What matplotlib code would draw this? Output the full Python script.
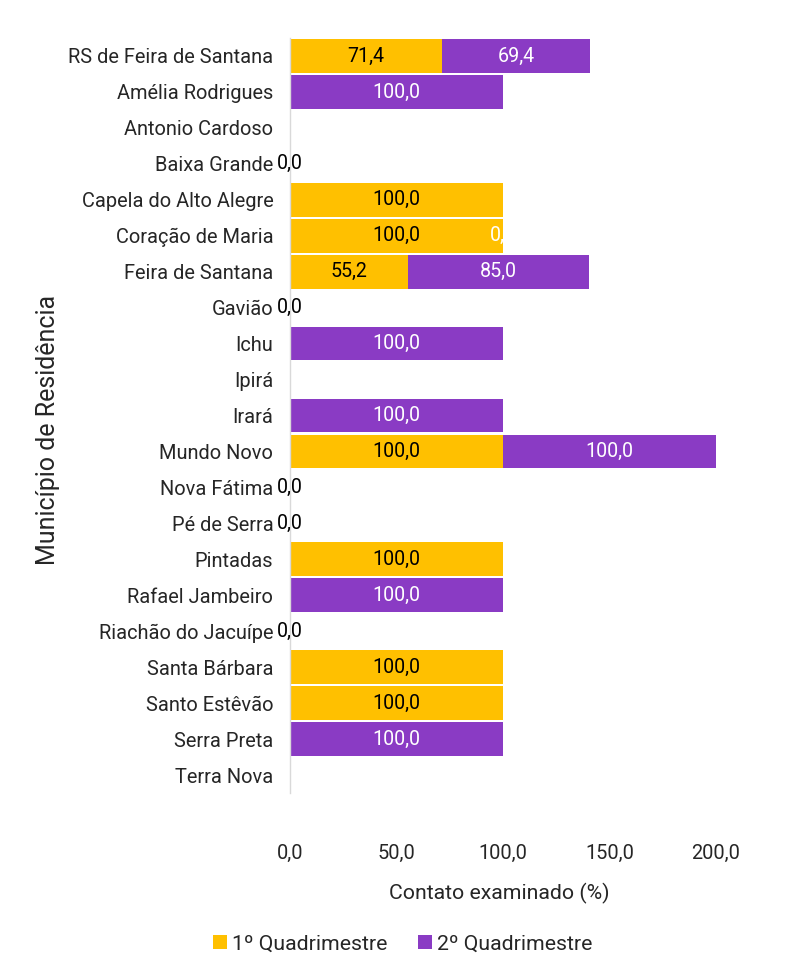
import numpy as np
import matplotlib
matplotlib.use("Agg")
import matplotlib.pyplot as plt
from matplotlib.lines import Line2D

plt.rcParams['font.family'] = ['Roboto', 'DejaVu Sans']

categories = ["RS de Feira de Santana", "Amélia Rodrigues", "Antonio Cardoso", "Baixa Grande",
              "Capela do Alto Alegre", "Coração de Maria", "Feira de Santana", "Gavião", "Ichu",
              "Ipirá", "Irará", "Mundo Novo", "Nova Fátima", "Pé de Serra", "Pintadas",
              "Rafael Jambeiro", "Riachão do Jacuípe", "Santa Bárbara", "Santo Estêvão",
              "Serra Preta", "Terra Nova"]
nan = np.nan
q1 = [71.4, nan, nan, 0.0, 100.0, 100.0, 55.2, 0.0, nan, nan, nan, 100.0, 0.0, 0.0, 100.0,
      nan, 0.0, 100.0, 100.0, nan, nan]
q2 = [69.4, 100.0, nan, nan, nan, 0.0, 85.0, nan, 100.0, nan, 100.0, 100.0, nan, nan, nan,
      100.0, 0.0, nan, nan, 100.0, nan]
series_names = ["1º Quadrimestre", "2º Quadrimestre"]
xticks = [0, 50, 100, 150, 200]

c1 = "#FFC000"
c2 = "#8A3BC4"
txt = "#262626"
fs_cat = 14.4
fs_val = 14.1
fs_title = 15.3

fig = plt.figure(figsize=(7.91, 9.74), dpi=100)
ax = fig.add_axes([290/791, 1-793/974, (716-290)/791, (793-38)/974])

y = np.arange(len(categories))
a1 = np.array(q1, dtype=float)
a2 = np.array(q2, dtype=float)
left2 = np.nan_to_num(a1)

ax.barh(y, a1, height=0.94, color=c1, linewidth=0)
ax.barh(y, a2, left=left2, height=0.94, color=c2, linewidth=0)

def fmt(v):
    return "" if np.isnan(v) else f"{v:.1f}".replace(".", ",")

for i in range(len(categories)):
    if not np.isnan(a2[i]):
        ax.text(left2[i] + a2[i] / 2, y[i], fmt(a2[i]), ha="center", va="center",
                color="white", fontsize=fs_val)
for i in range(len(categories)):
    if not np.isnan(a1[i]):
        ax.text(a1[i] / 2, y[i], fmt(a1[i]), ha="center", va="center",
                color="black", fontsize=fs_val)

ax.set_ylim(len(categories) - 0.5, -0.5)
ax.set_xlim(0, 200)
ax.set_yticks(y)
ax.set_yticklabels(categories, fontsize=fs_cat, color=txt)
ax.set_xticks(xticks)
ax.set_xticklabels([f"{t:.1f}".replace(".", ",") for t in xticks], fontsize=fs_cat, color=txt)
ax.tick_params(axis="y", length=0, pad=12)
ax.tick_params(axis="x", length=0, pad=37)
for s in ["top", "right", "bottom"]:
    ax.spines[s].set_visible(False)
ax.spines["left"].set_color("#D9D9D9")
ax.spines["left"].set_linewidth(1.0)

fig.text(499/791, 1-893/974, "Contato examinado (%)", ha="center", va="center",
         fontsize=fs_title, color=txt)
fig.text(48/791, 1-430/974, "Município de Residência", rotation=90, ha="center", va="center",
         fontsize=18, color=txt)

handles = [Line2D([], [], marker="s", linestyle="none", markersize=10, markerfacecolor=c1,
                  markeredgewidth=0),
           Line2D([], [], marker="s", linestyle="none", markersize=10, markerfacecolor=c2,
                  markeredgewidth=0)]
fig.legend(handles, series_names, loc="center", bbox_to_anchor=(401/791, 1-944/974), ncol=2,
           frameon=False, fontsize=fs_title, handletextpad=0.05, columnspacing=1.3,
           handlelength=1.0, labelcolor=txt)

fig.savefig("out.png", dpi=100)
